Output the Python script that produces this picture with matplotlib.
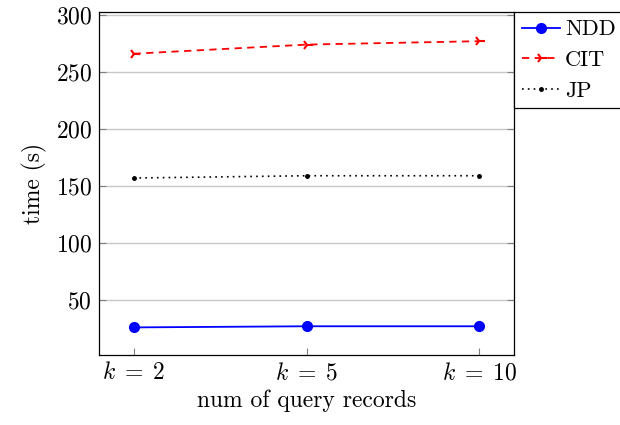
import matplotlib
matplotlib.use("Agg")
import matplotlib.pyplot as plt

plt.rcParams['font.family'] = ['cmr10', 'DejaVu Serif']
plt.rcParams['mathtext.fontset'] = 'cm'
plt.rcParams['axes.formatter.use_mathtext'] = True

# query sizes on the x axis
k_labels = [r'$k\;=\;2$', r'$k\;=\;5$', r'$k\;=\;10$']
ndd = [26, 27, 27]
cit = [266, 274, 277]
jp = [157, 159, 159]

xs = range(len(k_labels))

fig = plt.figure(figsize=(6.2, 4.25), dpi=100)
ax = fig.add_axes([0.1597, 0.1647, 0.6694, 0.8071])

ax.plot(xs, ndd, color='blue', marker='o', markersize=7, linewidth=1.3, label='NDD')
ax.plot(xs, cit, color='red', marker='4', markersize=8, markeredgewidth=1.5,
        linestyle=(0, (4, 3)), linewidth=1.3, label='CIT')
ax.plot(xs, jp, color='black', marker='o', markersize=2.5, linestyle=(0, (1, 2.5)),
        linewidth=1.2, label='JP')

ax.set_xlim(-0.2, 2.2)
ax.set_ylim(1.8, 302.6)
ax.set_xticks(list(xs))
ax.set_xticklabels(k_labels)
ax.set_yticks([50, 100, 150, 200, 250, 300])
ax.yaxis.grid(True, color='#c8c8c8', linewidth=1)
ax.set_axisbelow(True)
ax.tick_params(direction='in', length=5, color='#808080', labelsize=17,
               right=True, top=False, pad=5)
for s in ax.spines.values():
    s.set_linewidth(0.9)

ax.set_xlabel('num of query records', fontsize=17, labelpad=4)
ax.set_ylabel('time (s)', fontsize=17, labelpad=6)

leg = ax.legend(loc='upper left', bbox_to_anchor=(1.0, 1.0), borderaxespad=0,
                fancybox=False, edgecolor='black', fontsize=16, handlelength=1.7,
                handletextpad=0.25, borderpad=0.35, labelspacing=0.5,
                framealpha=1)
leg.get_frame().set_linewidth(0.9)

fig.savefig('out.png', dpi=100)
